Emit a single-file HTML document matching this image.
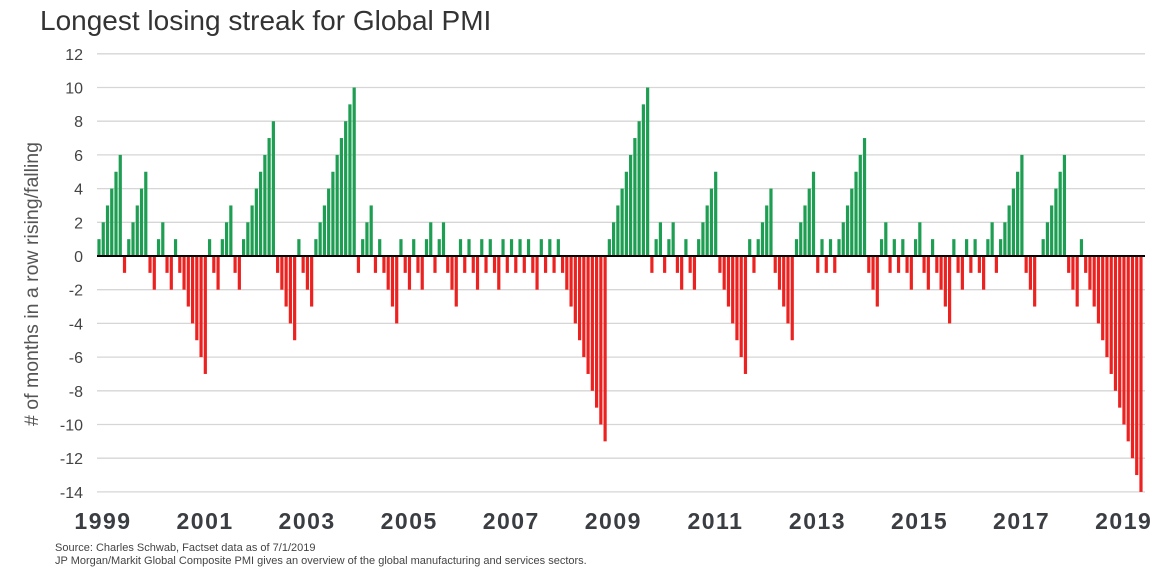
<!DOCTYPE html>
<html><head><meta charset="utf-8"><style>
body{margin:0;background:#fff;width:1170px;height:578px;overflow:hidden;font-family:"Liberation Sans",sans-serif}
</style></head><body>
<svg width="1170" height="578" xmlns="http://www.w3.org/2000/svg">
<text x="40" y="30" font-size="28" fill="#333" font-family="Liberation Sans, sans-serif">Longest losing streak for Global PMI</text>
<text transform="translate(38,284) rotate(-90)" text-anchor="middle" font-size="19.5" fill="#555" font-family="Liberation Sans, sans-serif"># of months in a row rising/falling</text>
<g id="grid"></g><g id="ylabels"></g><g id="bars"></g><g id="xlabels"></g>
<line id="zero" stroke="#000" stroke-width="2"></line>
<text x="55" y="551" font-size="11" fill="#444">Source: Charles Schwab, Factset data as of 7/1/2019</text>
<text x="55" y="564" font-size="11" fill="#444">JP Morgan/Markit Global Composite PMI gives an overview of the global manufacturing and services sectors.</text>
</svg>
<script>
const values = [1,2,3,4,5,6,-1,1,2,3,4,5,-1,-2,1,2,-1,-2,1,-1,-2,-3,-4,-5,-6,-7,1,-1,-2,1,2,3,-1,-2,1,2,3,4,5,6,7,8,
-1,-2,-3,-4,-5,1,-1,-2,-3,1,2,3,4,5,6,7,8,9,10,-1,1,2,3,-1,1,-1,-2,-3,-4,1,-1,-2,1,-1,-2,1,2,-1,1,2,-1,
-2,-3,1,-1,1,-1,-2,1,-1,1,-1,-2,1,-1,1,-1,1,-1,1,-1,-2,1,-1,1,-1,1,-1,-2,-3,-4,-5,-6,-7,-8,-9,-10,-11,1,2,3,4,
5,6,7,8,9,10,-1,1,2,-1,1,2,-1,-2,1,-1,-2,1,2,3,4,5,-1,-2,-3,-4,-5,-6,-7,1,-1,1,2,3,4,-1,-2,-3,-4,-5,1,
2,3,4,5,-1,1,-1,1,-1,1,2,3,4,5,6,7,-1,-2,-3,1,2,-1,1,-1,1,-1,-2,1,2,-1,-2,1,-1,-2,-3,-4,1,-1,-2,1,-1,1,
-1,-2,1,2,-1,1,2,3,4,5,6,-1,-2,-3,0,1,2,3,4,5,6,-1,-2,-3,1,-1,-2,-3,-4,-5,-6,-7,-8,-9,-10,-11,-12,-13,-14];
const yTicks = [12,10,8,6,4,2,0,-2,-4,-6,-8,-10,-12,-14];
const yearLabels = ["1999","2001","2003","2005","2007","2009","2011","2013","2015","2017","2019"];
const NS="http://www.w3.org/2000/svg";
const y = v => 256 - v*16.85;
const x = i => 99 + i*4.253;
const X0=97, X1=1145;
const grid=document.getElementById('grid'), yl=document.getElementById('ylabels'), bars=document.getElementById('bars'), xl=document.getElementById('xlabels');
yTicks.forEach(t=>{
  const l=document.createElementNS(NS,'line');
  l.setAttribute('x1',X0);l.setAttribute('x2',X1);l.setAttribute('y1',y(t));l.setAttribute('y2',y(t));
  l.setAttribute('stroke','#d6d6d6');l.setAttribute('stroke-width','1.3');
  
  
  grid.appendChild(l);
  const tx=document.createElementNS(NS,'text');
  tx.setAttribute('x',83);tx.setAttribute('y',y(t)+6);tx.setAttribute('text-anchor','end');
  tx.setAttribute('font-size','16');tx.setAttribute('fill','#444');
  tx.textContent=t;
  
  
  yl.appendChild(tx);
});
values.forEach((v,i)=>{
  if(v===0) return;
  const r=document.createElementNS(NS,'rect');
  r.setAttribute('x',x(i)-1.6);r.setAttribute('width',3.2);
  r.setAttribute('y',v>0?y(v):y(0));r.setAttribute('height',Math.abs(y(v)-y(0)));
  r.setAttribute('fill',v>0?'#1e9e52':'#ec2220');
  
  
  bars.appendChild(r);
});
yearLabels.forEach((lab,k)=>{
  const tx=document.createElementNS(NS,'text');
  tx.setAttribute('x',x(24*k)+4);tx.setAttribute('y',529);tx.setAttribute('text-anchor','middle');
  tx.setAttribute('font-size','23');tx.setAttribute('font-weight','bold');tx.setAttribute('fill','#3a3d42');
  tx.setAttribute('letter-spacing','1.5');
  tx.textContent=lab;
  
  
  xl.appendChild(tx);
});
const z=document.getElementById('zero');
z.setAttribute('x1',X0);z.setAttribute('x2',X1);z.setAttribute('y1',y(0));z.setAttribute('y2',y(0));
</script>
</body></html>
